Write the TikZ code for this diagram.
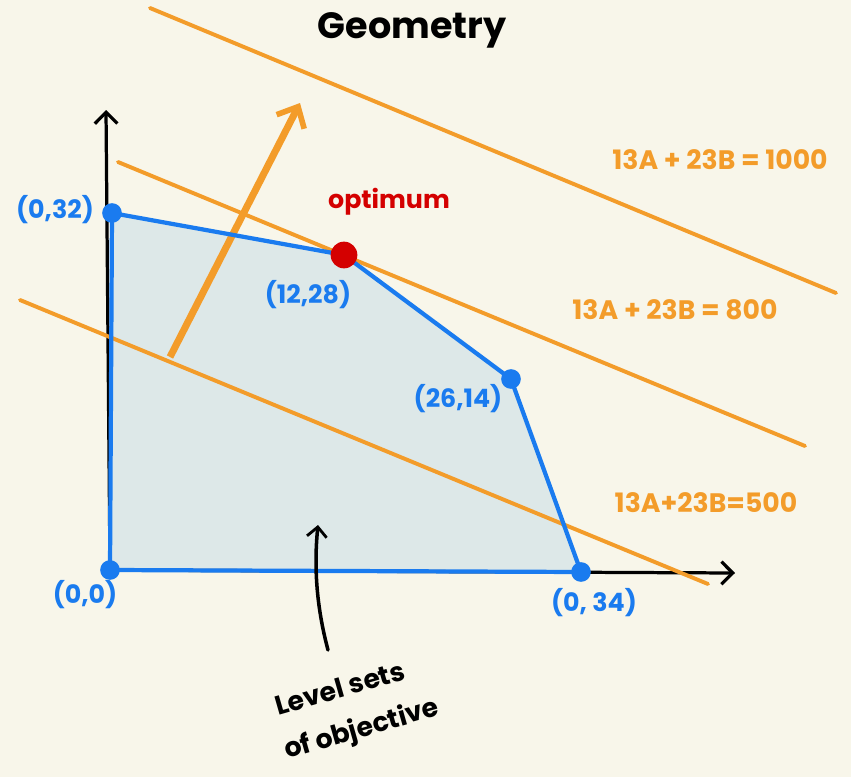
\documentclass[tikz,border=0pt]{standalone}
\usepackage{fontspec}
\setmainfont{Poppins}
\usetikzlibrary{arrows.meta}
\definecolor{paper}{HTML}{F8F6EA}
\definecolor{regionfill}{HTML}{DDE8E8}
\definecolor{lineblue}{HTML}{1A7BEF}
\definecolor{levelorange}{HTML}{F39C2A}
\definecolor{optred}{HTML}{D40000}
\tikzset{
  vertex/.style={circle, fill=lineblue, inner sep=0pt, minimum size=14pt},
  vlabel/.style={text=lineblue, font=\fontsize{18}{20}\selectfont\bfseries},
  levelline/.style={levelorange, line width=2.8pt, line cap=round},
  levellabel/.style={text=levelorange, font=\fontsize{19}{22}\selectfont\bfseries},
  axis/.style={black, line width=2.3pt, -{Straight Barb[length=8pt,width=16pt,line width=2.3pt]}},
  note/.style={rotate=16, inner sep=0pt, font=\fontsize{19}{23}\selectfont\bfseries}
}
\begin{document}
\begin{tikzpicture}[x=0.025cm,y=-0.025cm]
    % Background
    \fill[paper] (0,0) rectangle (851,777);
    \useasboundingbox (0,0) rectangle (851,777);

    % Corners of the feasible region
    \coordinate (c00) at (110,570);
    \coordinate (c032) at (112,213);
    \coordinate (c1228) at (344,255);
    \coordinate (c2614) at (511,379);
    \coordinate (c034) at (581,572);

    % Feasible region
    \fill[regionfill] (c00) -- (c032) -- (c1228) -- (c2614) -- (c034) -- cycle;

    % Axes
    \coordinate (yend) at (106,110);
    \coordinate (xend) at (735,573);
    \draw[axis] (c00) -- (yend);
    \draw[axis] (c00) -- (xend);

    % Level sets of the objective
    \coordinate (a1) at (150,8);    \coordinate (b1) at (836,293);
    \coordinate (a2) at (118,162);  \coordinate (b2) at (805,446);
    \coordinate (a3) at (20,300);   \coordinate (b3) at (708,584);
    \draw[levelline] (a1) -- (b1);
    \draw[levelline] (a2) -- (b2);
    \draw[levelline] (a3) -- (b3);
    \node[levellabel] (l1000) at (720,160) {13A + 23B = 1000};
    \node[levellabel] (l800) at (675,310) {13A + 23B = 800};
    \node[levellabel] (l500) at (706,503) {13A+23B=500};

    % Direction of increase
    \coordinate (gradtail) at (170,357);
    \coordinate (gradhead) at (300,103);
    \draw[levelorange, line width=5pt, -{Straight Barb[length=12pt,width=22pt,line width=4pt]}] (gradtail) -- (gradhead);

    % Boundary of the region
    \draw[lineblue, line width=3pt, line join=round] (c00) -- (c032) -- (c1228) -- (c2614) -- (c034) -- cycle;
    \node[vertex] (v00) at (c00) {};
    \node[vertex] (v032) at (c032) {};
    \node[vertex] (v2614) at (c2614) {};
    \node[vertex] (v034) at (c034) {};
    \node[circle, fill=optred, inner sep=0pt, minimum size=19pt] (vopt) at (c1228) {};

    % Corner labels
    \node[vlabel] (t032) at (55,210) {(0,32)};
    \node[vlabel] (t1228) at (308,295) {(12,28)};
    \node[vlabel] (t2614) at (458,399) {(26,14)};
    \node[vlabel] (t00) at (85,595) {(0,0)};
    \node[vlabel] (t034) at (594,603) {(0, 34)};
    \node[text=optred, font=\fontsize{18}{20}\selectfont\bfseries] (topt) at (389,202) {optimum};

    % Title
    \node[font=\fontsize{26}{30}\selectfont\bfseries] (title) at (412,30) {Geometry};

    % Pointer to the level sets
    \node[note] (lsets1) at (340,688) {Level sets};
    \node[note] (lsets2) at (362,730) {of objective};
    \coordinate (ptail) at (328,650);
    \coordinate (phead) at (318,525);
    \draw[black, line width=2.5pt, line cap=round, -{Straight Barb[length=7pt,width=14pt,line width=2pt]}] (ptail) .. controls (316,605) and (314,565) .. (phead);
\end{tikzpicture}
\end{document}
